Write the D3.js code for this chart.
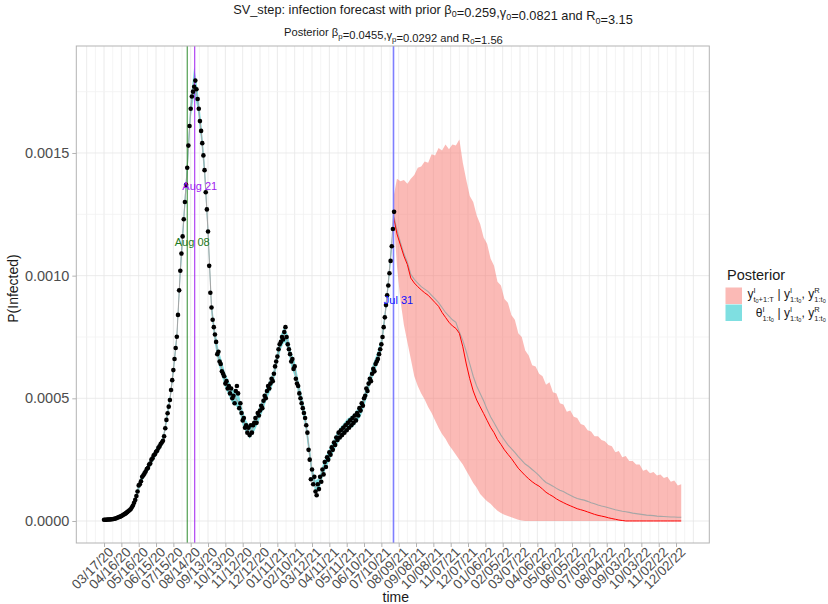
<!DOCTYPE html>
<html>
<head>
<meta charset="utf-8">
<script src="https://d3js.org/d3.v7.min.js"></script>
<style>
  body { margin: 0; background: #fff; }
  svg { font-family: "Liberation Sans", Arial, sans-serif; }
  .tick text { fill: #4d4d4d; font-size: 14.5px; }
  .tick line { stroke: #b3b3b3; }
  .math text { white-space: pre; fill: #1a1a1a; }
</style>
<title>SV_step infection forecast</title>
</head>
<body>
<svg id="chart" width="828" height="604"></svg>
<script>
// values are in units of 1e-4 (P(Infected))
var unit = 1e-4;

// observed series, every 2 days from 03/17/20
var obsStart = "2020-03-17", obsStep = 2;
var observed = [
  0.05,0.05,0.05,0.06,0.06,0.06,0.07,0.07,0.08,0.09,0.10,0.12,0.14,0.16,0.18,0.20,0.23,0.26,0.29,0.32,0.36,0.40,0.44,0.48,0.55,0.63,
  0.74,0.86,1.02,1.20,1.45,1.50,1.62,1.80,1.86,1.94,2.02,2.12,2.16,2.30,2.34,2.50,2.56,2.68,2.72,2.82,2.86,2.98,3.04,3.14,3.20,
  3.27,3.45,3.78,4.12,4.39,4.66,4.93,5.34,5.74,6.15,6.60,7.05,7.51,8.40,9.40,10.2,10.9,11.6,12.3,13.0,13.7,14.4,15.3,16.1,16.8,
  17.3,17.5,17.7,17.95,17.6,17.2,16.8,16.3,15.9,15.4,14.9,14.3,13.4,12.7,11.8,10.4,9.3,8.7,8.2,7.9,7.6,7.3,6.8,6.9,6.5,
  6.4,6.1,6.0,5.9,5.6,5.7,5.4,5.5,5.2,5.4,5.0,5.1,4.8,5.3,5.5,5.2,4.6,4.8,4.4,4.1,4.2,3.8,3.9,3.6,3.8,
  3.5,3.9,3.6,3.9,4.0,4.2,4.0,4.4,4.3,4.5,4.7,4.6,4.9,5.1,5.0,5.3,5.5,5.4,5.6,5.8,5.7,6.0,6.3,6.5,6.7,
  7.0,7.2,7.3,7.5,7.4,7.7,7.9,7.5,7.2,7.0,6.8,6.5,6.6,6.2,6.3,5.8,5.6,5.5,5.2,5.0,4.8,4.6,4.4,4.2,3.9,
  3.6,2.9,2.5,1.7,2.1,1.5,1.8,1.2,1.05,1.5,1.3,1.8,1.6,2.1,1.9,2.4,2.2,2.6,2.5,2.8,2.7,3.0,2.9,3.2,3.1,
  3.4,3.3,3.6,3.4,3.7,3.5,3.8,3.6,3.9,3.7,4.0,3.8,4.1,3.9,4.2,4.0,4.3,4.1,4.4,4.3,4.6,4.5,4.8,4.7,5.0,
  5.1,5.4,5.3,5.6,5.8,5.7,6.0,6.2,6.1,6.4,6.5,6.6,6.8,7.0,7.2,7.5,7.9,8.3,8.8,9.2,9.6,10.1,10.6,11.2,11.9,12.6
];

// posterior of theta over the fitted period, every 6 days
var thetaStep = 6;
var thetaMid = [
  0.05,0.06,0.07,0.09,0.14,0.20,0.29,0.40,0.55,0.86,
  1.38,1.78,2.02,2.26,2.56,2.81,3.04,3.27,4.12,4.93,
  6.15,7.51,10.2,12.3,14.4,16.8,17.9,17.2,15.9,14.3,
  11.8,8.7,7.5,6.7,6.2,5.7,5.4,5.1,5.0,4.8,
  4.2,3.85,3.6,3.8,4.1,4.45,4.8,5.25,5.55,5.95,
  6.7,7.3,7.6,7.3,6.6,6.2,5.5,4.85,4.2,3.1,
  2.0,1.4,1.5,2.0,2.4,2.7,3.0,3.3,3.55,3.7,
  3.9,4.0,4.1,4.3,4.5,4.9,5.4,5.9,6.3,6.7,
  7.2,8.3,9.7,11.3
];
var thetaLow = [
  0.02,0.03,0.04,0.06,0.11,0.17,0.26,0.37,0.50,0.72,
  1.22,1.62,1.87,2.10,2.40,2.66,2.88,3.12,3.92,4.73,
  5.95,7.3,9.85,11.95,14.05,16.4,17.4,16.8,15.5,13.95,
  11.5,8.4,7.2,6.4,5.9,5.4,5.1,4.8,4.7,4.5,
  3.9,3.6,3.35,3.55,3.85,4.2,4.55,5.0,5.3,5.7,
  6.45,7.0,7.3,7.0,6.3,5.9,5.2,4.55,3.9,2.8,
  1.75,1.15,1.25,1.75,2.15,2.45,2.75,3.05,3.3,3.45,
  3.65,3.75,3.85,4.05,4.25,4.65,5.15,5.65,6.05,6.45,
  6.95,8.05,9.45,11.0
];
var thetaHigh = [
  0.08,0.09,0.10,0.12,0.17,0.23,0.32,0.43,0.60,1.0,
  1.55,1.95,2.17,2.42,2.72,2.96,3.2,3.42,4.32,5.13,
  6.35,7.75,10.55,12.65,14.75,17.2,18.5,17.6,16.3,14.65,
  12.1,9.0,7.8,7.0,6.5,6.0,5.7,5.4,5.3,5.1,
  4.5,4.1,3.85,4.05,4.35,4.7,5.05,5.5,5.8,6.2,
  6.95,7.6,7.9,7.6,6.9,6.5,5.8,5.15,4.5,3.4,
  2.25,1.65,1.75,2.25,2.65,2.95,3.25,3.55,3.8,3.95,
  4.15,4.25,4.35,4.55,4.75,5.15,5.65,6.15,6.55,6.95,
  7.45,8.55,9.95,11.6
];

// forecast from 07/31/21, every 6 days
var forecastStart = "2021-07-31", forecastStep = 6;
var fcUpper = [
  13.2,13.95,13.85,13.9,13.75,13.95,14.1,14.4,14.45,14.65,
  14.6,14.95,14.9,15.2,15.1,15.35,15.15,15.35,15.3,15.55,
  14.6,13.9,13.25,13.0,12.45,12.1,11.55,11.3,10.7,10.4,
  9.75,9.6,9.05,8.9,8.4,8.2,7.65,7.5,6.95,6.75,
  6.35,6.3,6.0,5.9,5.55,5.65,5.25,5.2,4.8,4.75,
  4.45,4.5,4.25,4.2,3.95,3.9,3.7,3.65,3.45,3.45,
  3.3,3.25,3.1,3.05,2.8,2.85,2.6,2.65,2.45,2.45,
  2.3,2.3,2.05,2.1,1.95,2.0,1.85,1.9,1.75,1.8,
  1.6,1.65,1.45,1.5
];
var fcLower = [
  12.5,10.4,9.0,8.0,7.3,6.6,5.9,5.5,5.2,4.95,
  4.65,4.4,4.1,3.8,3.55,3.35,3.1,2.9,2.7,2.5,
  2.3,2.05,1.8,1.55,1.35,1.1,0.95,0.8,0.7,0.55,
  0.42,0.33,0.25,0.2,0.15,0.1,0.05,0.02,0,0,
  0,0,0,0,0,0,0,0,0,0,
  0,0,0,0,0,0,0,0,0,0,
  0,0,0,0,0,0,0,0,0,0,
  0,0,0,0,0,0,0,0,0,0,
  0,0,0,0
];
var fcMedian = [
  12.4,11.7,11.25,10.8,10.45,9.9,9.7,9.55,9.42,9.3,
  9.2,9.05,8.9,8.75,8.5,8.3,8.1,7.95,7.85,7.65,
  7.1,6.4,5.8,5.3,4.93,4.65,4.38,4.1,3.82,3.6,
  3.32,3.12,2.9,2.72,2.55,2.35,2.15,2.0,1.85,1.72,
  1.6,1.5,1.42,1.3,1.17,1.08,1.0,0.9,0.82,0.75,
  0.68,0.62,0.56,0.5,0.46,0.42,0.37,0.32,0.27,0.23,
  0.2,0.17,0.13,0.1,0.07,0.04,0.02,0,0,0,
  0,0,0,0,0,0,0,0,0,0,
  0,0,0,0
];
var fcMean = [
  12.5,11.85,11.35,10.9,10.55,10.05,9.85,9.7,9.55,9.45,
  9.35,9.2,9.05,8.9,8.7,8.5,8.35,8.2,8.1,7.7,
  7.35,6.9,6.4,5.9,5.5,5.2,4.9,4.55,4.25,4.0,
  3.75,3.5,3.3,3.1,2.95,2.8,2.62,2.47,2.32,2.22,
  2.1,1.98,1.85,1.7,1.57,1.5,1.42,1.33,1.25,1.2,
  1.12,1.05,0.98,0.92,0.88,0.85,0.8,0.74,0.7,0.65,
  0.61,0.58,0.54,0.5,0.46,0.43,0.4,0.38,0.35,0.32,
  0.3,0.28,0.26,0.24,0.23,0.22,0.2,0.19,0.18,0.17,
  0.16,0.16,0.15,0.15
];

var tickLabels = ["03/17/20","04/16/20","05/16/20","06/15/20","07/15/20","08/14/20","09/13/20",
  "10/13/20","11/12/20","12/12/20","01/11/21","02/10/21","03/12/21","04/11/21","05/11/21",
  "06/10/21","07/10/21","08/09/21","09/08/21","10/08/21","11/07/21","12/07/21","01/06/22",
  "02/05/22","03/07/22","04/06/22","05/06/22","06/05/22","07/05/22","08/04/22","09/03/22",
  "10/03/22","11/02/22","12/02/22"];
var yTicks = [0, 5, 10, 15];

var markerDates = ["2020-08-08", "2020-08-21", "2021-07-31"];
var markerLabels = ["Aug 08", "Aug 21", "Jul 31"];
var markerLabelValues = [11.37, 13.65, 9.0];

// ---------------------------------------------------------------
var svg = d3.select("#chart");
var L = 76.3, R = 709.3, T = 46, B = 543;
var DAY = 864e5;
var parseISO = d3.utcParse("%Y-%m-%d"), parseTick = d3.utcParse("%m/%d/%y");
var t0 = parseISO(obsStart), tf = parseISO(forecastStart);
var dayOf = function(base, n) { return new Date(+base + n * DAY); };

var x = d3.scaleUtc().domain([dayOf(t0, -48), dayOf(t0, 1047.6)]).range([L, R]);
var y = d3.scaleLinear().domain([-0.0000897, 0.001936]).range([B, T]);

// grid
var grid = svg.append("g");
grid.append("rect").attr("x", L).attr("y", T).attr("width", R - L).attr("height", B - T).attr("fill", "#fff");
var gridDays = d3.range(-30, 1021, 15);
grid.selectAll("line.vg").data(gridDays).enter().append("line")
  .attr("x1", function(d){ return x(dayOf(t0, d)); }).attr("x2", function(d){ return x(dayOf(t0, d)); })
  .attr("y1", T).attr("y2", B)
  .attr("stroke", function(d){ return d % 30 === 0 ? "#e6e6e6" : "#f1f1f1"; }).attr("stroke-width", 0.8);
var hGrid = [0, 2.5, 5, 7.5, 10, 12.5, 15, 17.5];
grid.selectAll("line.hg").data(hGrid).enter().append("line")
  .attr("x1", L).attr("x2", R)
  .attr("y1", function(d){ return y(d * unit); }).attr("y2", function(d){ return y(d * unit); })
  .attr("stroke", function(d){ return d % 5 === 0 ? "#e6e6e6" : "#f1f1f1"; }).attr("stroke-width", 0.8);

var obsPts = observed.map(function(v, i){ return {d: dayOf(t0, i * obsStep), v: v * unit}; });
var thetaPts = thetaMid.map(function(v, i){ return {d: dayOf(t0, i * thetaStep), lo: thetaLow[i] * unit, hi: thetaHigh[i] * unit, v: v * unit}; });
var fcPts = fcUpper.map(function(v, i){ return {d: dayOf(tf, i * forecastStep), hi: v * unit, lo: fcLower[i] * unit, med: fcMedian[i] * unit, mean: fcMean[i] * unit}; });

var plot = svg.append("g");
// forecast ribbon
plot.append("path").datum(fcPts)
  .attr("d", d3.area().x(function(d){ return x(d.d); }).y0(function(d){ return y(d.lo); }).y1(function(d){ return y(d.hi); }))
  .attr("fill", "#F8766D").attr("fill-opacity", 0.5);
// theta ribbon
plot.append("path").datum(thetaPts)
  .attr("d", d3.area().x(function(d){ return x(d.d); }).y0(function(d){ return y(d.lo); }).y1(function(d){ return y(d.hi); }))
  .attr("fill", "#00BFC4").attr("fill-opacity", 0.5);
// mean line (theta then forecast mean)
var meanPts = thetaPts.map(function(d){ return {d: d.d, v: d.v}; })
  .concat(fcPts.map(function(d){ return {d: d.d, v: d.mean}; }));
plot.append("path").datum(meanPts)
  .attr("d", d3.line().x(function(d){ return x(d.d); }).y(function(d){ return y(d.v); }))
  .attr("fill", "none").attr("stroke", "#a6a6a6").attr("stroke-width", 1.1);
plot.append("path").datum(fcPts)
  .attr("d", d3.line().x(function(d){ return x(d.d); }).y(function(d){ return y(d.med); }))
  .attr("fill", "none").attr("stroke", "#ff0000").attr("stroke-width", 1);

// markers
var markerColors = ["#2e8b2e", "#a020f0", "#7f7fff"];
var markerText = ["#1e7a1e", "#a020f0", "#1010ff"];
var markerWidth = [1, 1, 1.6];
markerDates.forEach(function(s, i){
  var mx = x(parseISO(s));
  plot.append("line").attr("x1", mx).attr("x2", mx).attr("y1", T).attr("y2", B)
    .attr("stroke", markerColors[i]).attr("stroke-width", markerWidth[i]);
});

plot.selectAll("circle").data(obsPts).enter().append("circle")
  .attr("cx", function(d){ return x(d.d); }).attr("cy", function(d){ return y(d.v); })
  .attr("r", 2.3).attr("fill", "#000");

markerDates.forEach(function(s, i){
  plot.append("text").attr("x", x(parseISO(s)) + 5).attr("y", y(markerLabelValues[i] * unit) + 4)
    .attr("text-anchor", "middle").attr("font-size", 11).attr("fill", markerText[i]).text(markerLabels[i]);
});

// panel border
svg.append("rect").attr("x", L).attr("y", T).attr("width", R - L).attr("height", B - T)
  .attr("fill", "none").attr("stroke", "#b3b3b3").attr("stroke-width", 1);

// axes
var xAxis = svg.append("g").attr("transform", "translate(0," + B + ")")
  .call(d3.axisBottom(x).tickValues(tickLabels.map(function(s){ return parseTick(s); }))
    .tickFormat(d3.utcFormat("%m/%d/%y")).tickSize(4).tickPadding(2));
xAxis.select(".domain").remove();
xAxis.selectAll(".tick text").attr("text-anchor", "end").attr("y", 0).attr("dy", "0.72em")
  .style("font-size", "13.5px")
  .attr("transform", "translate(3,3) rotate(-45)");

var yAxis = svg.append("g").attr("transform", "translate(" + L + ",0)")
  .call(d3.axisLeft(y).tickValues(yTicks.map(function(v){ return v * unit; }))
    .tickFormat(d3.format(".4f")).tickSize(4).tickPadding(3));
yAxis.select(".domain").remove();

svg.append("text").attr("x", (L + R) / 2 + 3).attr("y", 602).attr("text-anchor", "middle")
  .attr("font-size", 14).attr("fill", "#1a1a1a").text("time");
svg.append("text").attr("transform", "translate(18," + ((T + B) / 2 - 6) + ") rotate(-90)")
  .attr("text-anchor", "middle").attr("font-size", 14).attr("fill", "#1a1a1a").text("P(Infected)");

// titles
function subText(sel, parts, size) {
  parts.forEach(function(p){
    if (typeof p === "string") sel.append("tspan").text(p);
    else {
      sel.append("tspan").attr("font-size", size * 0.7).attr("dy", size * 0.25).text(p.sub);
      sel.append("tspan").attr("dy", -size * 0.25).text("");
    }
  });
}
var title = svg.append("text").attr("x", 433).attr("y", 14).attr("text-anchor", "middle")
  .attr("font-size", 12.8).attr("fill", "#1a1a1a").style("white-space", "pre");
subText(title, ["SV_step: infection forecast with prior \u03b2", {sub: "0"}, "=0.259,\u03b3", {sub: "0"},
  "=0.0821 and R", {sub: "0"}, "=3.15"], 12.8);
var subtitle = svg.append("text").attr("x", 393.4).attr("y", 36).attr("text-anchor", "middle")
  .attr("font-size", 11.2).attr("fill", "#1a1a1a").style("white-space", "pre");
subText(subtitle, ["Posterior \u03b2", {sub: "p"}, "=0.0455,\u03b3", {sub: "p"}, "=0.0292 and R", {sub: "0"}, "=1.56"], 11.2);

// legend
var leg = svg.append("g");
leg.append("text").attr("x", 727).attr("y", 280).attr("font-size", 14.5).attr("fill", "#1a1a1a").text("Posterior");
leg.append("rect").attr("x", 725.5).attr("y", 287.5).attr("width", 16.5).attr("height", 16.5)
  .attr("fill", "#F8766D").attr("fill-opacity", 0.5);
leg.append("rect").attr("x", 725.5).attr("y", 304.5).attr("width", 16.5).attr("height", 16.5)
  .attr("fill", "#00BFC4").attr("fill-opacity", 0.5);

function drawMath(g, items) {
  var cx = 0;
  items.forEach(function(it){
    if (typeof it === "string") {
      var t = g.append("text").attr("x", cx).attr("font-size", 12).text(it);
      cx += t.node().getComputedTextLength();
    } else {
      var s = g.append("text").attr("x", cx).attr("y", -5.5).attr("font-size", 7.5).text(it.sup);
      var b = g.append("text").attr("x", cx).attr("y", 3.5).attr("font-size", 7.5);
      b.append("tspan").text(it.sub[0]);
      b.append("tspan").attr("font-size", 5.5).attr("dy", 1.5).text(it.sub[1]);
      if (it.sub[2]) b.append("tspan").attr("font-size", 7.5).attr("dy", -1.5).text(it.sub[2]);
      cx += Math.max(s.node().getComputedTextLength(), b.node().getComputedTextLength()) + 0.3;
    }
  });
  return cx;
}
function mathLabel(xRight, yBase, items) {
  var g = leg.append("g").attr("class", "math");
  var w = drawMath(g, items);
  g.attr("transform", "translate(" + (xRight - w) + "," + yBase + ")");
}
mathLabel(826, 298, ["y", {sup: "I", sub: ["t", "0", "+1:T"]}, " | y", {sup: "I", sub: ["1:t", "0"]},
  ", y", {sup: "R", sub: ["1:t", "0"]}]);
mathLabel(826, 317, ["\u03b8", {sup: "I", sub: ["1:t", "0"]}, " | y", {sup: "I", sub: ["1:t", "0"]},
  ", y", {sup: "R", sub: ["1:t", "0"]}]);
</script>
</body>
</html>
